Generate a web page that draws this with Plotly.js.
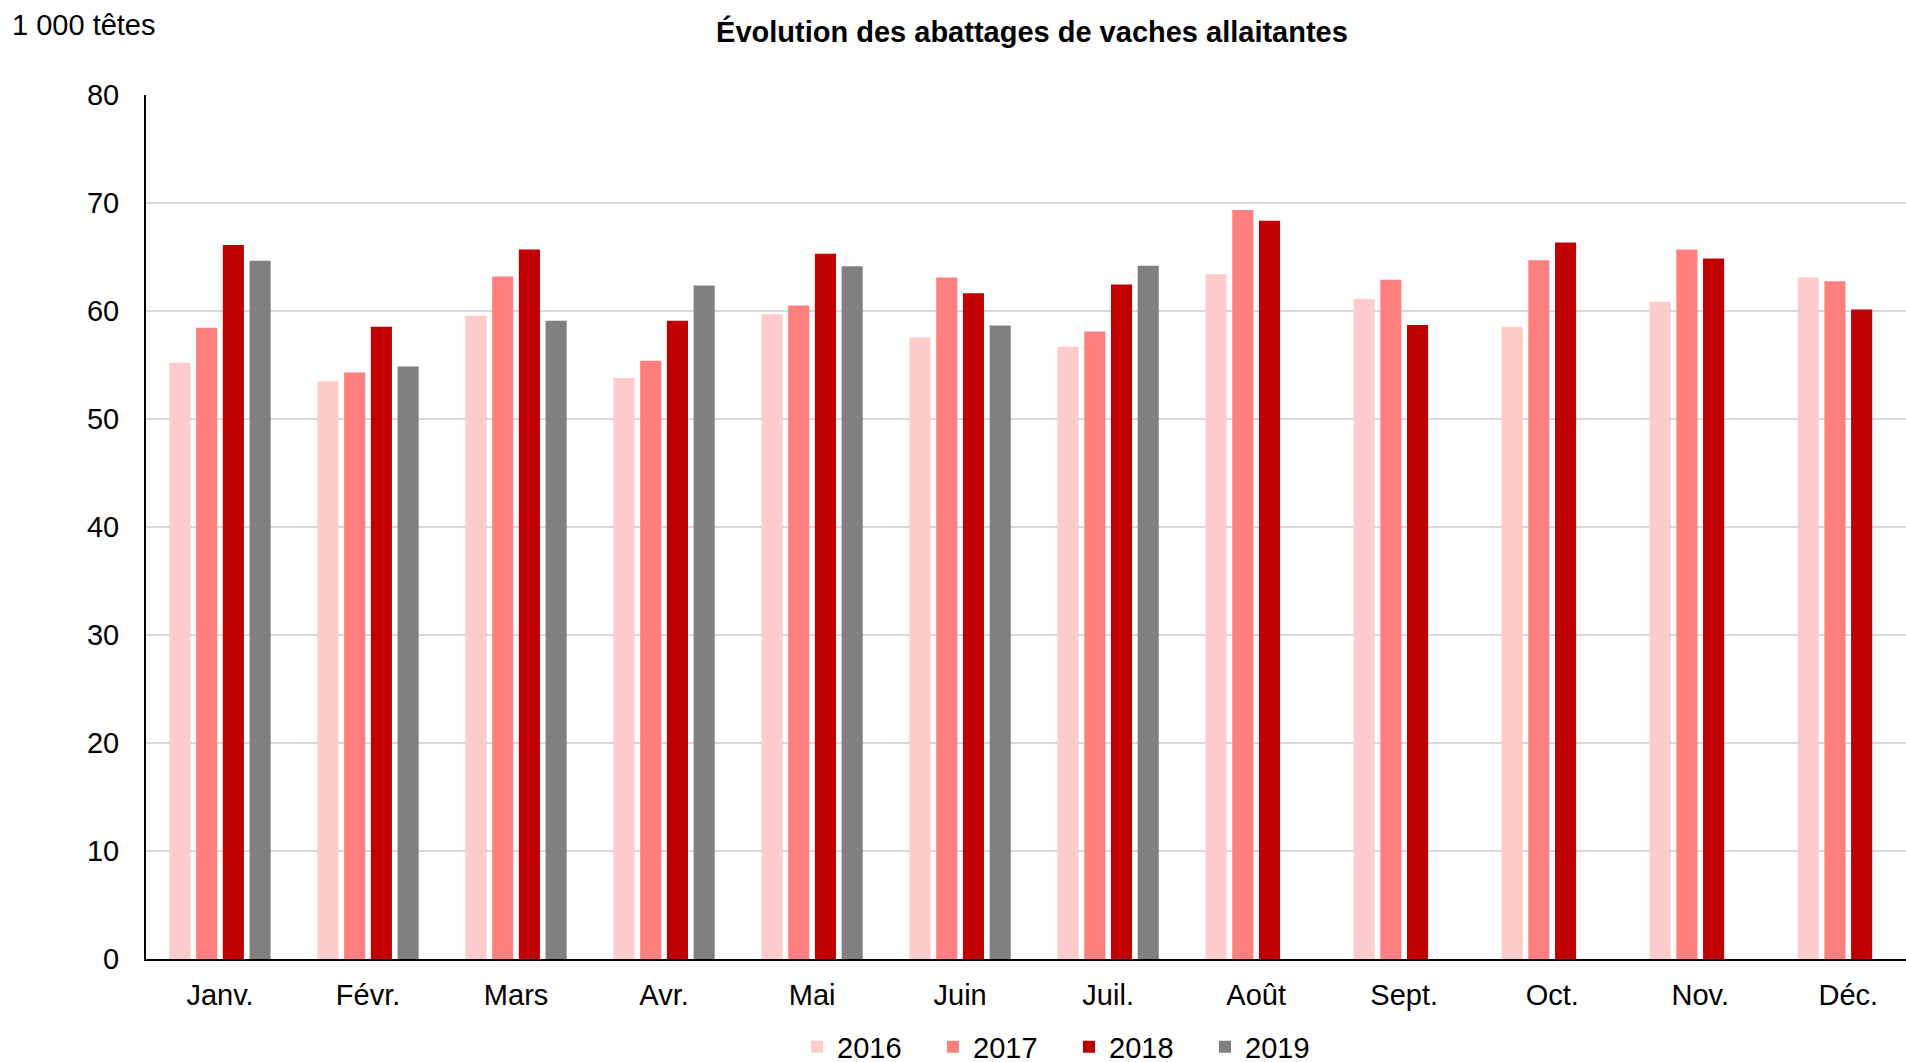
<!DOCTYPE html>
<html>
<head>
<meta charset="utf-8">
<script src="https://cdn.plot.ly/plotly-3.0.1.min.js"></script>
<style>html,body{margin:0;padding:0;background:#fff;}#chart{width:1906px;height:1062px;}</style>
</head>
<body>
<div id="chart"></div>
<script>
const months = ["Janv.", "Févr.", "Mars", "Avr.", "Mai", "Juin", "Juil.", "Août", "Sept.", "Oct.", "Nov.", "Déc."];
const years = ["2016", "2017", "2018", "2019"];
const v2016 = [55.2, 53.5, 59.55, 53.8, 59.7, 57.55, 56.7, 63.4, 61.1, 58.55, 60.85, 63.1];
const v2017 = [58.45, 54.3, 63.2, 55.4, 60.5, 63.1, 58.1, 69.35, 62.9, 64.7, 65.7, 62.75];
const v2018 = [66.1, 58.55, 65.7, 59.1, 65.3, 61.65, 62.45, 68.35, 58.7, 66.35, 64.85, 60.15];
const v2019 = [64.65, 54.85, 59.1, 62.35, 64.15, 58.65, 64.2, null, null, null, null, null];
const yTicks = [0, 10, 20, 30, 40, 50, 60, 70, 80];
const colors = ["#FFCCCC", "#FF7F7F", "#C00000", "#808080"];

const series = [v2016, v2017, v2018, v2019];
const FONT = "Liberation Sans, Arial, sans-serif";
const FS = 29;

const traces = series.map((vals, i) => ({
  type: "bar",
  name: years[i],
  x: months,
  y: vals,
  marker: {color: colors[i], line: {width: 0}},
  hoverinfo: "x+y+name"
}));

const W = 1906, H = 1062;
const layout = {
  width: W, height: H,
  paper_bgcolor: "#fff", plot_bgcolor: "#fff",
  font: {family: FONT, size: FS, color: "#000"},
  margin: {l: 146, r: 0, t: 95, b: 103, pad: 0},
  barmode: "group",
  bargap: 0.278,
  bargroupgap: 0.21,
  title: {
    text: "<b>Évolution des abattages de vaches allaitantes</b>",
    font: {family: FONT, size: FS, color: "#000"},
    x: 1032 / W, xanchor: "center", xref: "container",
    y: 1 - 32 / H, yanchor: "middle", yref: "container"
  },
  xaxis: {
    type: "category",
    range: [-0.5, 11.39],
    showline: true, linecolor: "#000", linewidth: 2,
    showgrid: false, zeroline: false,
    ticks: "", ticklabelstandoff: 9,
    tickfont: {family: FONT, size: FS, color: "#000"},
    fixedrange: true
  },
  yaxis: {
    range: [0, 80],
    tickvals: yTicks,
    ticktext: yTicks.map(String),
    showline: true, linecolor: "#000", linewidth: 2,
    showgrid: true, gridcolor: "#D9D9D9", gridwidth: 1.5,
    zeroline: false,
    ticks: "", ticklabelstandoff: 19,
    tickfont: {family: FONT, size: FS, color: "#000"},
    fixedrange: true
  },
  legend: {
    orientation: "h",
    x: 797 / W, xanchor: "left", xref: "container",
    y: 1 - 1047 / H, yanchor: "middle", yref: "container",
    font: {family: FONT, size: FS, color: "#000"},
    traceorder: "normal",
    entrywidth: 91, entrywidthmode: "pixels",
    itemclick: false, itemdoubleclick: false
  },
  showlegend: true,
  annotations: [{
    text: "1 000 têtes",
    xref: "paper", yref: "paper",
    x: -136 / 1760, xanchor: "left",
    y: 1 + (95 - 25) / 864, yanchor: "middle",
    showarrow: false,
    font: {family: FONT, size: FS, color: "#000"}
  }]
};

Plotly.newPlot("chart", traces, layout, {displayModeBar: false, staticPlot: true});
</script>
</body>
</html>
